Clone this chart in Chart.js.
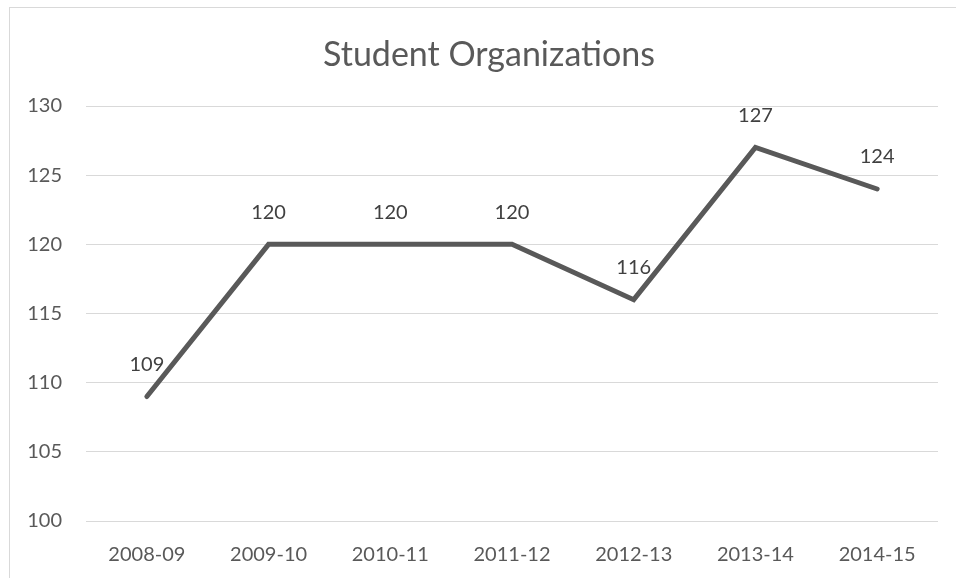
<!DOCTYPE html>
<html>
<head>
<meta charset="utf-8">
<script src="https://cdn.jsdelivr.net/npm/chart.js@4.4.1/dist/chart.umd.min.js"></script>
<style>
  body { margin: 0; background: #fff; }
  #wrap { position: relative; width: 956px; height: 578px; overflow: hidden; }
  #frame { position: absolute; left: 9px; top: 7px; width: 960px; height: 600px;
           border-left: 1px solid #d9d9d9; border-top: 1px solid #d9d9d9; }
  canvas { position: absolute; left: 0; top: 0; }
</style>
</head>
<body>
<div id="wrap">
  <div id="frame"></div>
  <canvas id="chart" width="956" height="578"></canvas>
</div>
<script>
// chart data
const chartTitle = 'Student Organizations';
const years = ['2008-09', '2009-10', '2010-11', '2011-12', '2012-13', '2013-14', '2014-15'];
const orgCounts = [109, 120, 120, 120, 116, 127, 124];
const yTicks = [100, 105, 110, 115, 120, 125, 130];

const FONT = 'Lato, "Open Sans", sans-serif';

// title is centred on the outer frame, not the plot, so draw it here
const frameTitle = {
    id: 'frameTitle',
    afterDraw(chart) {
        const ctx = chart.ctx;
        ctx.save();
        ctx.fillStyle = '#595959';
        ctx.font = '34px ' + FONT;
        ctx.textAlign = 'center';
        ctx.textBaseline = 'middle';
        ctx.fillText(chartTitle, 489, 55);
        ctx.restore();
    }
};

// draws the number above each point
const valueLabels = {
    id: 'valueLabels',
    afterDatasetsDraw(chart) {
        const ctx = chart.ctx;
        const meta = chart.getDatasetMeta(0);
        ctx.save();
        ctx.fillStyle = '#404040';
        ctx.font = '20px ' + FONT;
        ctx.textAlign = 'center';
        ctx.textBaseline = 'middle';
        meta.data.forEach(function(pt, i) {
            ctx.fillText(String(orgCounts[i]), pt.x, pt.y - 32);
        });
        ctx.restore();
    }
};

new Chart(document.getElementById('chart'), {
    type: 'line',
    data: {
        labels: years,
        datasets: [{
            data: orgCounts,
            borderColor: '#595959',
            borderWidth: 5,
            borderCapStyle: 'round',
            borderJoinStyle: 'miter',
            pointRadius: 0,
            tension: 0
        }]
    },
    options: {
        responsive: false,
        animation: false,
        layout: { padding: { left: 0, right: 18, top: 106, bottom: 0 } },
        plugins: {
            legend: { display: false },
            tooltip: { enabled: false },
            title: { display: false }
        },
        scales: {
            x: {
                offset: true,
                grid: { display: false },
                border: { display: false },
                ticks: {
                    color: '#595959',
                    font: { family: FONT, size: 20 },
                    padding: 14,
                    maxRotation: 0
                },
                afterFit(scale) { scale.height = 57; }
            },
            y: {
                min: 100,
                max: 130,
                afterBuildTicks(scale) { scale.ticks = yTicks.map(v => ({ value: v })); },
                grid: { color: '#d9d9d9', lineWidth: 1, drawTicks: false },
                border: { display: false },
                ticks: {
                    color: '#595959',
                    font: { family: FONT, size: 20 },
                    padding: 24
                },
                afterFit(scale) { scale.width = 86; }
            }
        }
    },
    plugins: [valueLabels, frameTitle]
});
</script>
</body>
</html>
